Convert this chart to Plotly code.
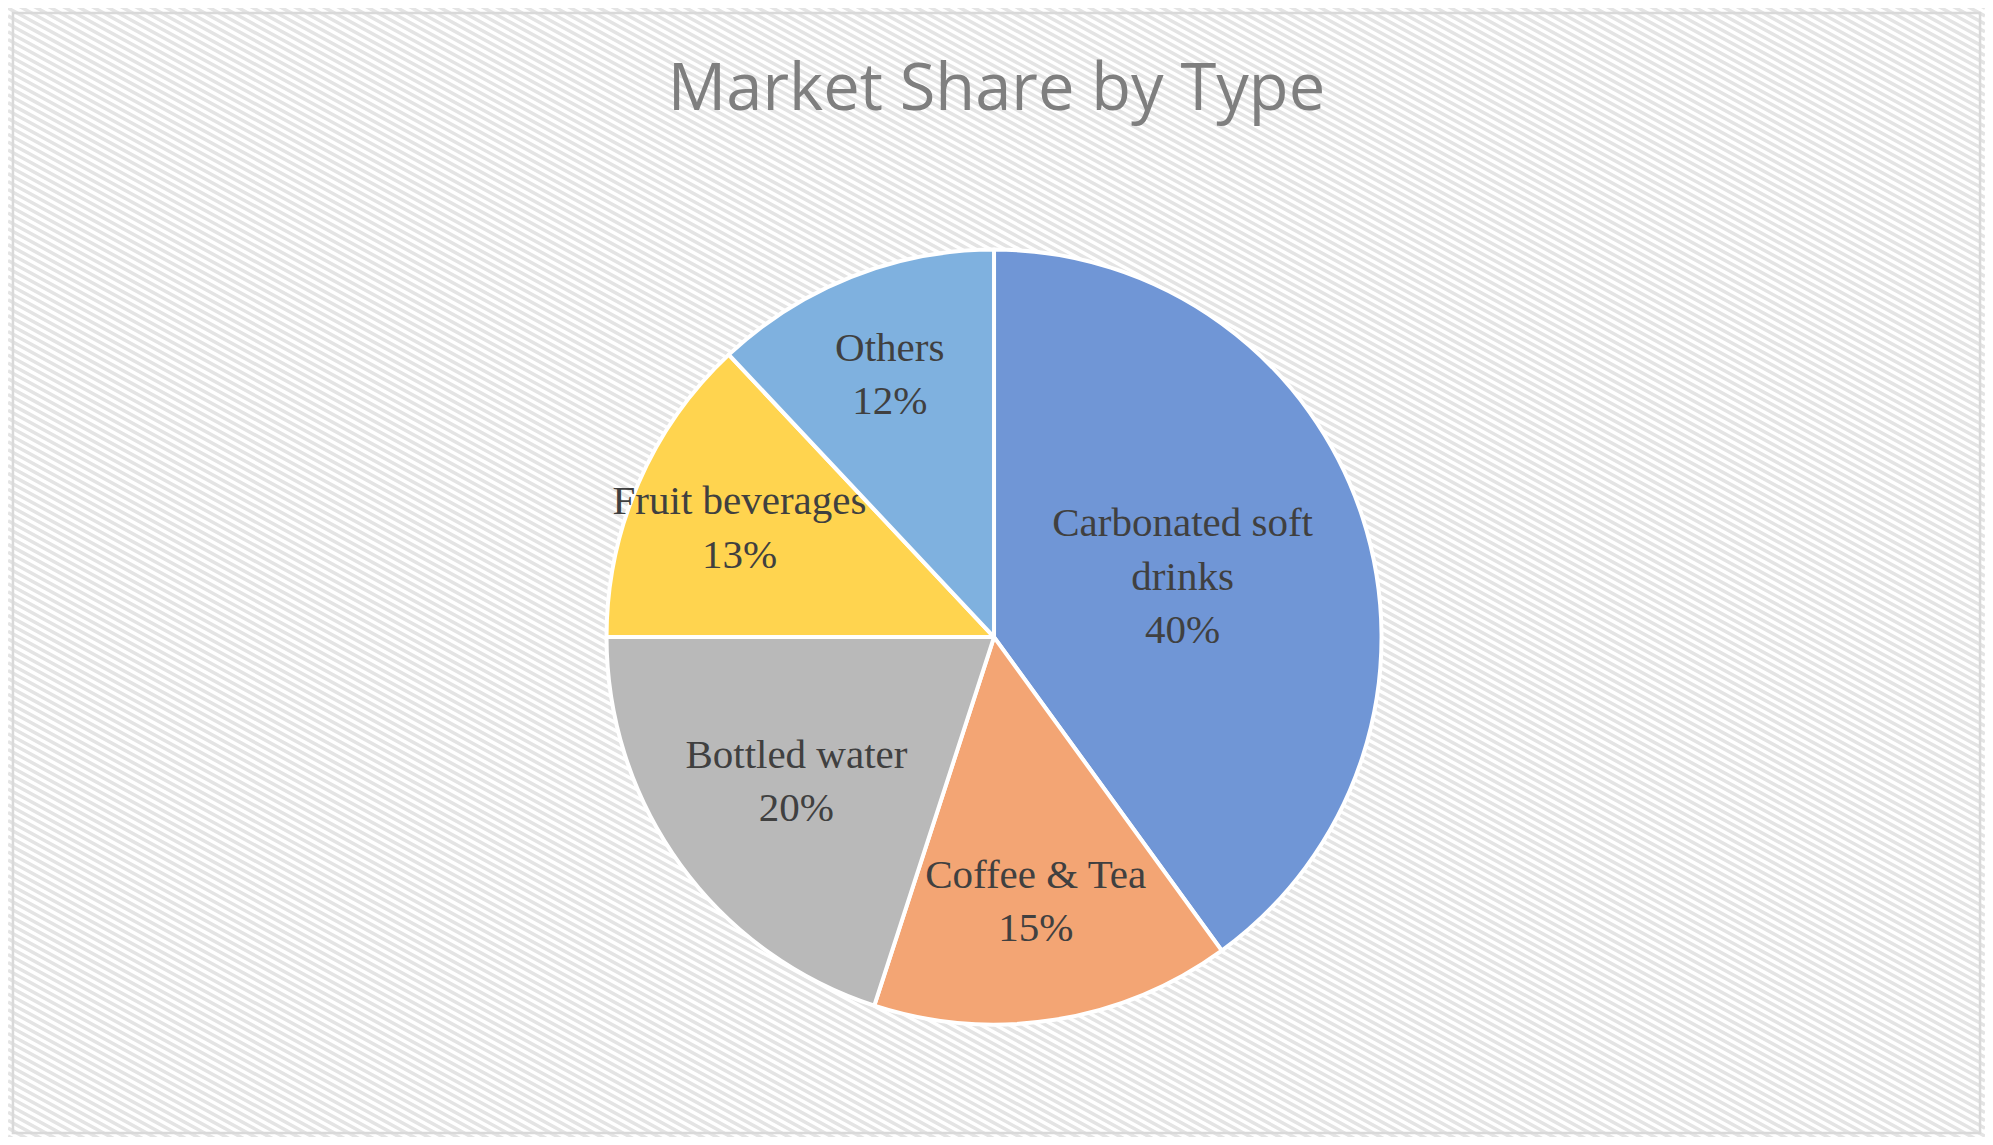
import plotly.graph_objects as go

# Market share data
categories = ["Carbonated soft drinks", "Coffee & Tea", "Bottled water", "Fruit beverages", "Others"]
display_labels = ["Carbonated soft<br>drinks", "Coffee & Tea", "Bottled water", "Fruit beverages", "Others"]
shares = [40, 15, 20, 13, 12]
colors = ["#7096d6", "#f3a574", "#b9b9b9", "#ffd44f", "#7fb1df"]

W, H = 1993, 1145  # window size in px
cx, cy, half = 994, 507, 393  # pie centre (from bottom) and half-size of domain, px

# diagonal stripe background as one path shape (paper coords)
slope = 0.55
step = 8
segs = []
c = -int(slope * W) - step
while c < H + step:
    x0, y0 = 0, c
    x1, y1 = W, c + slope * W
    segs.append(f"M {x0 / W:.5f} {1 - y0 / H:.5f} L {x1 / W:.5f} {1 - y1 / H:.5f}")
    c += step
stripe_path = " ".join(segs)

fig = go.Figure()
fig.add_trace(go.Pie(
    labels=categories,
    values=shares,
    customdata=display_labels,
    texttemplate="%{customdata}<br>%{percent:.0%}",
    textposition="inside",
    insidetextorientation="horizontal",
    sort=False,
    direction="clockwise",
    rotation=0,
    marker=dict(colors=colors, line=dict(color="white", width=4)),
    textfont=dict(family="Liberation Serif", size=41, color="#404040"),
    hoverinfo="label+percent",
    domain=dict(x=[(cx - half) / W, (cx + half) / W], y=[(cy - half) / H, (cy + half) / H]),
    showlegend=False,
))

fig.update_layout(
    title=dict(text="Market Share by Type", x=0.5, xanchor="center", y=1 - 80 / H, yanchor="middle",
               font=dict(family="Open Sans", size=65, color="#7f7f7f")),
    margin=dict(l=0, r=0, t=0, b=0),
    paper_bgcolor="white",
    plot_bgcolor="white",
    uniformtext=dict(minsize=41, mode="show"),
    shapes=[
        dict(type="path", path=stripe_path, xref="paper", yref="paper",
             line=dict(color="#e4e4e4", width=3.5), layer="below"),
        dict(type="rect", xref="paper", yref="paper", x0=5 / W, x1=1988 / W, y0=1 - 1141 / H, y1=1 - 5 / H,
             line=dict(color="#d9d9d9", width=2.5), fillcolor="rgba(0,0,0,0)", layer="below"),
    ],
)

fig.write_html("out.html")
